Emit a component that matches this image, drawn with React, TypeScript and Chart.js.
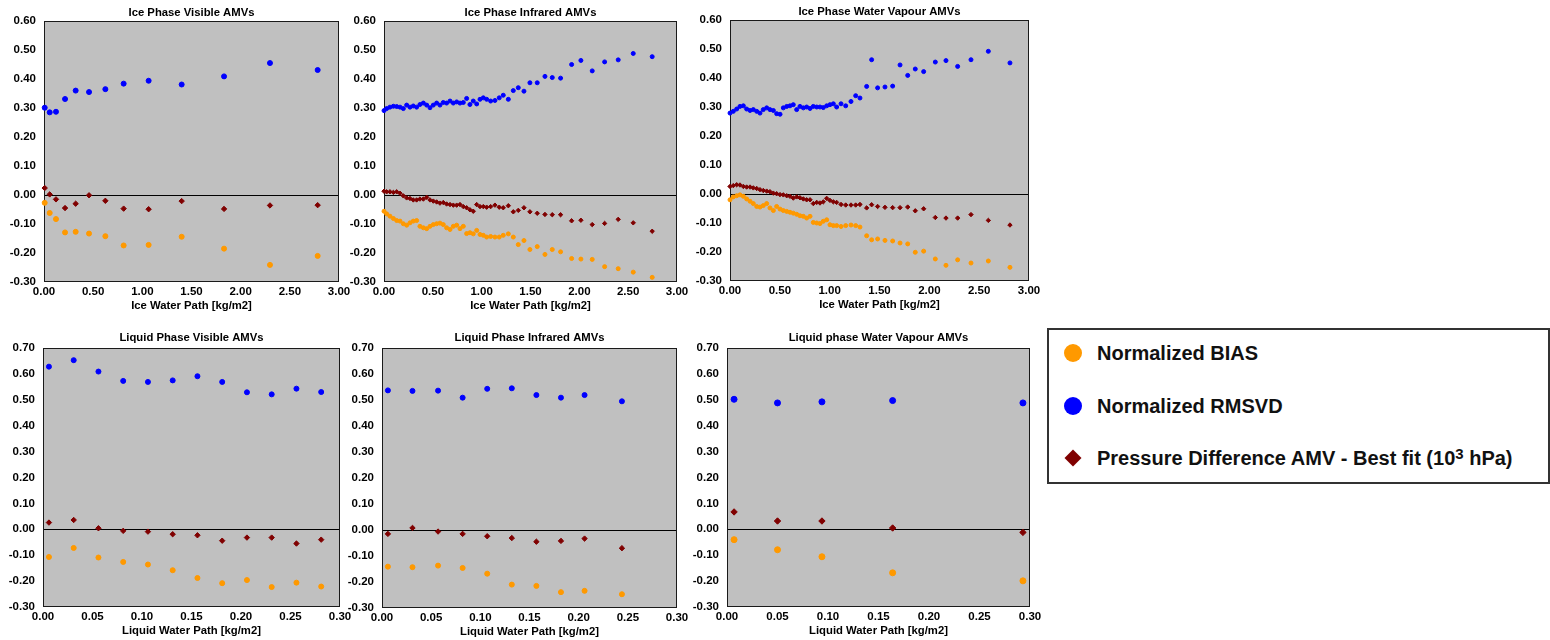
import React, { useEffect, useRef } from "react";
import { Chart, registerables } from "chart.js";

Chart.register(...registerables);

// ---------- tick labels ----------
const iceXTicks = [0, 0.5, 1.0, 1.5, 2.0, 2.5, 3.0];
const liqXTicks = [0, 0.05, 0.1, 0.15, 0.2, 0.25, 0.3];
const iceYTicks = [-0.3, -0.2, -0.1, 0, 0.1, 0.2, 0.3, 0.4, 0.5, 0.6];
const liqYTicks = [-0.3, -0.2, -0.1, 0, 0.1, 0.2, 0.3, 0.4, 0.5, 0.6, 0.7];

// ---------- Ice Phase Visible ----------
const iceVisX = [0.007, 0.058, 0.122, 0.214, 0.322, 0.458, 0.624, 0.81, 1.064, 1.4, 1.831, 2.298, 2.783];
const iceVisBias = [-0.027, -0.062, -0.083, -0.129, -0.127, -0.133, -0.142, -0.174, -0.172, -0.144, -0.185, -0.241, -0.21];
const iceVisRmsvd = [0.301, 0.285, 0.287, 0.331, 0.36, 0.355, 0.365, 0.384, 0.394, 0.381, 0.409, 0.455, 0.431];
const iceVisPress = [0.024, 0.002, -0.015, -0.045, -0.03, -0.001, -0.02, -0.047, -0.049, -0.021, -0.048, -0.036, -0.035];

// ---------- Ice Phase Infrared ----------
const iceIrX = [
  0.0, 0.027, 0.061, 0.096, 0.13, 0.164, 0.198, 0.232, 0.266, 0.3, 0.334, 0.368, 0.403, 0.437, 0.471, 0.505,
  0.539, 0.573, 0.607, 0.641, 0.676, 0.71, 0.744, 0.778, 0.812, 0.846, 0.88, 0.914, 0.949, 0.983, 1.017, 1.051,
  1.092, 1.136, 1.18, 1.221, 1.273, 1.324, 1.375, 1.433, 1.494, 1.569, 1.648, 1.723, 1.808, 1.921, 2.016, 2.132,
  2.259, 2.398, 2.552, 2.746,
];
const iceIrBias = [
  -0.056, -0.065, -0.073, -0.081, -0.088, -0.09, -0.099, -0.104, -0.096, -0.09, -0.088, -0.108, -0.113, -0.116, -0.108, -0.102,
  -0.099, -0.097, -0.102, -0.113, -0.119, -0.108, -0.104, -0.116, -0.108, -0.133, -0.13, -0.134, -0.122, -0.136, -0.139, -0.145,
  -0.143, -0.145, -0.145, -0.139, -0.134, -0.145, -0.171, -0.157, -0.188, -0.178, -0.205, -0.188, -0.196, -0.219, -0.221, -0.222,
  -0.247, -0.254, -0.266, -0.284,
];
const iceIrRmsvd = [
  0.291, 0.298, 0.303, 0.306, 0.305, 0.303, 0.298, 0.31, 0.303, 0.307, 0.303, 0.312, 0.317, 0.31, 0.301, 0.31,
  0.317, 0.31, 0.319, 0.317, 0.324, 0.317, 0.321, 0.317, 0.319, 0.333, 0.312, 0.324, 0.314, 0.33, 0.335, 0.33,
  0.324, 0.326, 0.335, 0.344, 0.33, 0.36, 0.37, 0.358, 0.387, 0.387, 0.409, 0.405, 0.403, 0.45, 0.464, 0.428,
  0.459, 0.466, 0.488, 0.477,
];
const iceIrPress = [
  0.013, 0.011, 0.011, 0.009, 0.011, 0.006, -0.003, -0.01, -0.012, -0.017, -0.017, -0.014, -0.014, -0.008, -0.017, -0.021,
  -0.024, -0.028, -0.026, -0.031, -0.033, -0.035, -0.035, -0.033, -0.04, -0.044, -0.051, -0.056, -0.033, -0.04, -0.04, -0.042,
  -0.04, -0.035, -0.042, -0.044, -0.037, -0.058, -0.053, -0.044, -0.058, -0.063, -0.067, -0.068, -0.068, -0.089, -0.087, -0.102,
  -0.098, -0.084, -0.096, -0.125,
];

// ---------- Ice Phase Water Vapour ----------
const iceWvX = [
  0.0, 0.033, 0.067, 0.1, 0.134, 0.167, 0.201, 0.234, 0.268, 0.301, 0.334, 0.368, 0.401, 0.435, 0.468, 0.502,
  0.535, 0.569, 0.602, 0.635, 0.669, 0.702, 0.736, 0.769, 0.803, 0.836, 0.87, 0.903, 0.936, 0.97, 1.003, 1.037,
  1.07, 1.114, 1.161, 1.214, 1.261, 1.304, 1.371, 1.421, 1.481, 1.555, 1.632, 1.706, 1.783, 1.859, 1.943, 2.06,
  2.167, 2.284, 2.418, 2.592, 2.809,
];
const iceWvBias = [
  -0.02, -0.01, -0.006, -0.003, -0.008, -0.017, -0.025, -0.033, -0.043, -0.045, -0.04, -0.033, -0.048, -0.057, -0.043, -0.052,
  -0.057, -0.06, -0.063, -0.066, -0.07, -0.075, -0.077, -0.083, -0.077, -0.098, -0.1, -0.102, -0.094, -0.089, -0.106, -0.109,
  -0.109, -0.112, -0.109, -0.107, -0.109, -0.114, -0.144, -0.158, -0.155, -0.16, -0.162, -0.169, -0.172, -0.201, -0.197, -0.224,
  -0.246, -0.227, -0.238, -0.231, -0.253,
];
const iceWvRmsvd = [
  0.279, 0.285, 0.293, 0.302, 0.304, 0.293, 0.288, 0.291, 0.285, 0.279, 0.291, 0.297, 0.291, 0.288, 0.277, 0.275,
  0.297, 0.302, 0.304, 0.308, 0.291, 0.302, 0.297, 0.3, 0.295, 0.302, 0.3, 0.3, 0.298, 0.304, 0.308, 0.311,
  0.3, 0.311, 0.304, 0.319, 0.339, 0.331, 0.371, 0.463, 0.366, 0.369, 0.372, 0.445, 0.409, 0.431, 0.422, 0.455,
  0.46, 0.44, 0.463, 0.492, 0.452,
];
const iceWvPress = [
  0.026, 0.029, 0.032, 0.031, 0.026, 0.024, 0.024, 0.021, 0.019, 0.015, 0.012, 0.01, 0.008, 0.003, 0.001, -0.002,
  -0.003, -0.006, -0.008, -0.014, -0.01, -0.013, -0.017, -0.02, -0.02, -0.033, -0.029, -0.031, -0.027, -0.015, -0.022, -0.027,
  -0.029, -0.036, -0.038, -0.038, -0.038, -0.036, -0.048, -0.037, -0.043, -0.046, -0.047, -0.047, -0.045, -0.058, -0.051, -0.081,
  -0.083, -0.083, -0.071, -0.091, -0.107,
];

// ---------- Liquid Phase Visible ----------
const liqVisX = [0.006, 0.031, 0.056, 0.081, 0.106, 0.131, 0.156, 0.181, 0.206, 0.231, 0.256, 0.281];
const liqVisBias = [-0.107, -0.072, -0.109, -0.126, -0.136, -0.158, -0.188, -0.208, -0.196, -0.223, -0.206, -0.221];
const liqVisRmsvd = [0.628, 0.653, 0.609, 0.573, 0.569, 0.575, 0.591, 0.569, 0.529, 0.521, 0.543, 0.53];
const liqVisPress = [0.026, 0.036, 0.004, -0.006, -0.009, -0.019, -0.023, -0.044, -0.032, -0.032, -0.055, -0.04];

// ---------- Liquid Phase Infrared ----------
const liqIrX = [0.006, 0.031, 0.057, 0.082, 0.107, 0.132, 0.157, 0.182, 0.206, 0.244];
const liqIrBias = [-0.141, -0.143, -0.137, -0.146, -0.168, -0.21, -0.215, -0.239, -0.234, -0.247];
const liqIrRmsvd = [0.537, 0.535, 0.536, 0.509, 0.543, 0.545, 0.519, 0.509, 0.519, 0.495];
const liqIrPress = [-0.015, 0.008, -0.006, -0.015, -0.024, -0.031, -0.045, -0.042, -0.033, -0.07];

// ---------- Liquid phase Water Vapour ----------
const liqWvX = [0.007, 0.05, 0.094, 0.164, 0.293];
const liqWvBias = [-0.04, -0.079, -0.106, -0.168, -0.199];
const liqWvRmsvd = [0.502, 0.488, 0.492, 0.497, 0.488];
const liqWvPress = [0.067, 0.032, 0.032, 0.005, -0.012];

const seriesNames = [
  "Normalized BIAS",
  "Normalized RMSVD",
  "Pressure Difference AMV - Best fit (10³ hPa)",
];

// ---------- styling ----------
const FONT = "'Liberation Sans', Arial, Helvetica, sans-serif";
const ORANGE = "#FF9900";
const BLUE = "#0000FF";
const DARKRED = "#800000";
const PLOT_BG = "#C0C0C0";
const Y_W = 44;
const X_H = 30;
const TITLE_H = 21;
const PAD_R = 18;

type Spec = {
  title: string;
  xTitle: string;
  x: number[];
  bias: number[];
  rmsvd: number[];
  press: number[];
  xTicks: number[];
  yTicks: number[];
  area: { l: number; t: number; r: number; b: number };
  radius: number;
  titlePadTop: number;
};

const specs: Spec[] = [
  { title: "Ice Phase Visible AMVs", xTitle: "Ice Water Path [kg/m2]", x: iceVisX, bias: iceVisBias, rmsvd: iceVisRmsvd, press: iceVisPress,
    xTicks: iceXTicks, yTicks: iceYTicks, area: { l: 44, t: 21, r: 339, b: 282 }, radius: 2.5, titlePadTop: 6 },
  { title: "Ice Phase Infrared AMVs", xTitle: "Ice Water Path [kg/m2]", x: iceIrX, bias: iceIrBias, rmsvd: iceIrRmsvd, press: iceIrPress,
    xTicks: iceXTicks, yTicks: iceYTicks, area: { l: 384, t: 21, r: 677, b: 282 }, radius: 2, titlePadTop: 6 },
  { title: "Ice Phase Water Vapour AMVs", xTitle: "Ice Water Path [kg/m2]", x: iceWvX, bias: iceWvBias, rmsvd: iceWvRmsvd, press: iceWvPress,
    xTicks: iceXTicks, yTicks: iceYTicks, area: { l: 730, t: 20, r: 1029, b: 281 }, radius: 2, titlePadTop: 6 },
  { title: "Liquid Phase Visible AMVs", xTitle: "Liquid Water Path [kg/m2]", x: liqVisX, bias: liqVisBias, rmsvd: liqVisRmsvd, press: liqVisPress,
    xTicks: liqXTicks, yTicks: liqYTicks, area: { l: 43, t: 348, r: 340, b: 607 }, radius: 2.5, titlePadTop: 4 },
  { title: "Liquid Phase Infrared AMVs", xTitle: "Liquid Water Path [kg/m2]", x: liqIrX, bias: liqIrBias, rmsvd: liqIrRmsvd, press: liqIrPress,
    xTicks: liqXTicks, yTicks: liqYTicks, area: { l: 382, t: 348, r: 677, b: 608 }, radius: 2.5, titlePadTop: 4 },
  { title: "Liquid phase Water Vapour AMVs", xTitle: "Liquid Water Path [kg/m2]", x: liqWvX, bias: liqWvBias, rmsvd: liqWvRmsvd, press: liqWvPress,
    xTicks: liqXTicks, yTicks: liqYTicks, area: { l: 727, t: 348, r: 1030, b: 607 }, radius: 3, titlePadTop: 4 },
];

const plotFrame = {
  id: "plotFrame",
  beforeDraw(chart: any) {
    const { ctx, chartArea } = chart;
    const { left, top, right, bottom } = chartArea;
    ctx.save();
    ctx.fillStyle = PLOT_BG;
    ctx.fillRect(left, top, right - left, bottom - top);
    ctx.restore();
  },
  beforeDatasetsDraw(chart: any) {
    const { ctx, chartArea } = chart;
    const { left, top, right, bottom } = chartArea;
    const y0 = Math.round(chart.scales.y.getPixelForValue(0)) + 0.5;
    ctx.save();
    ctx.strokeStyle = "#000";
    ctx.lineWidth = 1;
    ctx.beginPath();
    ctx.moveTo(left, y0);
    ctx.lineTo(right, y0);
    ctx.stroke();
    ctx.strokeStyle = "#1a1a1a";
    ctx.strokeRect(left + 0.5, top + 0.5, right - left - 1, bottom - top - 1);
    ctx.restore();
  },
};

function Panel({ spec }: { spec: Spec }) {
  const ref = useRef<HTMLCanvasElement>(null);
  const W = spec.area.r - spec.area.l + Y_W + PAD_R;
  const H = spec.area.b - spec.area.t + TITLE_H + X_H;

  useEffect(() => {
    if (!ref.current) return;
    const pts = (ys: number[]) => spec.x.map((x, i) => ({ x, y: ys[i] }));
    const tickFont = { family: FONT, size: 11.5, weight: "bold" as const };
    const chart = new Chart(ref.current, {
      type: "scatter",
      data: {
        datasets: [
          { label: seriesNames[0], data: pts(spec.bias), pointStyle: "circle", pointRadius: spec.radius,
            backgroundColor: ORANGE, borderColor: ORANGE, borderWidth: 1, clip: false } as any,
          { label: seriesNames[1], data: pts(spec.rmsvd), pointStyle: "circle", pointRadius: spec.radius,
            backgroundColor: BLUE, borderColor: BLUE, borderWidth: 1, clip: false } as any,
          { label: seriesNames[2], data: pts(spec.press), pointStyle: "rectRot", pointRadius: spec.radius + 0.2,
            backgroundColor: DARKRED, borderColor: DARKRED, borderWidth: 1, clip: false } as any,
        ],
      },
      options: {
        animation: false,
        responsive: false,
        events: [],
        layout: { padding: { left: 0, right: PAD_R, top: 0, bottom: 0 } },
        plugins: {
          legend: { display: false },
          tooltip: { enabled: false },
          title: {
            display: true,
            text: spec.title,
            fullSize: false,
            color: "#000",
            font: { family: FONT, size: 11.3, weight: "bold", lineHeight: "13px" } as any,
            padding: { top: spec.titlePadTop, bottom: TITLE_H - 13 - spec.titlePadTop },
          },
        },
        scales: {
          x: {
            type: "linear",
            min: spec.xTicks[0],
            max: spec.xTicks[spec.xTicks.length - 1],
            grid: { display: false, drawTicks: false },
            border: { display: false },
            afterBuildTicks: (s: any) => {
              s.ticks = spec.xTicks.map((v) => ({ value: v }));
            },
            afterFit: (s: any) => {
              s.height = X_H;
            },
            ticks: {
              padding: 3,
              color: "#000",
              font: tickFont,
              autoSkip: false,
              maxRotation: 0,
              callback: (v: any) => Number(v).toFixed(2),
            },
            title: {
              display: true,
              text: spec.xTitle,
              color: "#000",
              font: { family: FONT, size: 11.3, weight: "bold", lineHeight: "13px" } as any,
              padding: { top: 0, bottom: 0 },
            },
          },
          y: {
            type: "linear",
            min: spec.yTicks[0],
            max: spec.yTicks[spec.yTicks.length - 1],
            grid: { display: false, drawTicks: false },
            border: { display: false },
            afterBuildTicks: (s: any) => {
              s.ticks = spec.yTicks.map((v) => ({ value: v }));
            },
            afterFit: (s: any) => {
              s.width = Y_W;
            },
            ticks: {
              padding: 8,
              color: "#000",
              font: tickFont,
              autoSkip: false,
              callback: (v: any) => Number(v).toFixed(2),
            },
          },
        },
      } as any,
      plugins: [plotFrame],
    });
    return () => chart.destroy();
  }, [spec]);

  return (
    <canvas
      ref={ref}
      width={W}
      height={H}
      style={{
        position: "absolute",
        left: spec.area.l - Y_W,
        top: spec.area.t - TITLE_H,
        width: W,
        height: H,
      }}
    />
  );
}

function Legend() {
  const itemStyle = (top: number): React.CSSProperties => ({
    position: "absolute",
    left: 0,
    top,
    height: 30,
    display: "flex",
    alignItems: "center",
    whiteSpace: "nowrap",
  });
  const textStyle: React.CSSProperties = {
    position: "absolute",
    left: 48,
    fontFamily: FONT,
    fontWeight: "bold",
    fontSize: 20,
    color: "#111",
    lineHeight: "30px",
  };
  const circle = (c: string): React.CSSProperties => ({
    position: "absolute",
    left: 15,
    top: 6,
    width: 18,
    height: 18,
    borderRadius: "50%",
    background: c,
  });
  const diamond: React.CSSProperties = {
    position: "absolute",
    left: 18,
    top: 9,
    width: 12,
    height: 12,
    background: DARKRED,
    transform: "rotate(45deg)",
  };
  return (
    <div
      style={{
        position: "absolute",
        left: 1047,
        top: 328,
        width: 503,
        height: 156,
        boxSizing: "border-box",
        border: "2px solid #333",
        background: "#fff",
      }}
    >
      <div style={itemStyle(8)}>
        <div style={circle(ORANGE)} />
        <div style={textStyle}>{seriesNames[0]}</div>
      </div>
      <div style={itemStyle(61)}>
        <div style={circle(BLUE)} />
        <div style={textStyle}>{seriesNames[1]}</div>
      </div>
      <div style={itemStyle(113)}>
        <div style={diamond} />
        <div style={textStyle}>
          Pressure Difference AMV - Best fit (10
          <sup style={{ fontSize: 15, verticalAlign: "6px", lineHeight: 0 }}>3</sup> hPa)
        </div>
      </div>
    </div>
  );
}

export default function App() {
  return (
    <div
      style={{
        position: "absolute",
        left: 0,
        top: 0,
        width: 1550,
        height: 640,
        background: "#fff",
        overflow: "hidden",
      }}
    >
      {specs.map((s, i) => (
        <Panel key={i} spec={s} />
      ))}
      <Legend />
    </div>
  );
}
